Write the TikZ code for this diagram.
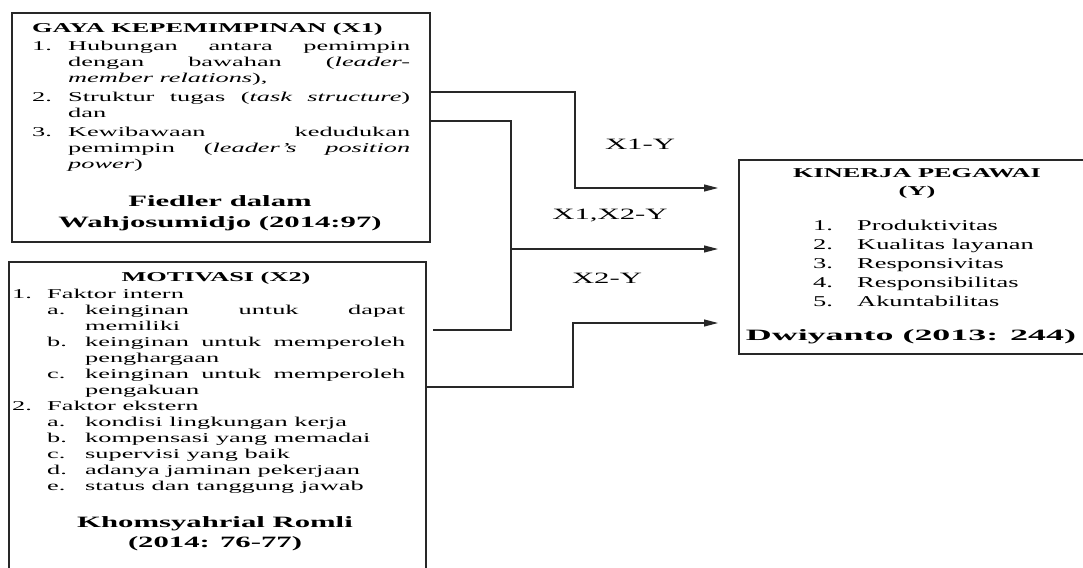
\documentclass[tikz,border=0pt]{standalone}
\usepackage{fontspec}
\setmainfont{Liberation Serif}[FakeStretch=1.95]
\usetikzlibrary{arrows.meta,positioning,calc}
\definecolor{edge}{RGB}{40,40,40}

\newcommand{\jl}[2]{\makebox[#1][s]{#2}}
\newcommand{\lb}[2]{\makebox[#1][l]{#2}}

\begin{document}
\begin{tikzpicture}[x=1pt,y=-1pt,
  frame/.style={draw=edge, line width=1.6pt, inner sep=0pt},
  txt/.style={inner sep=0pt, align=left, font=\fontsize{13.5}{16}\selectfont},
  head/.style={inner sep=0pt, align=center, font=\fontsize{13.5}{18}\selectfont\bfseries},
  cite/.style={inner sep=0pt, align=center, font=\fontsize{15.75}{21}\selectfont\bfseries},
  lbl/.style={inner sep=0pt, font=\fontsize{15.75}{16}\selectfont},
  line/.style={draw=edge, line width=1.1pt},
  conn/.style={line, -{Triangle[length=14pt,width=7pt]}}
]
  \clip (0,0) rectangle (1083,567);
  \node[frame, minimum width=418pt, minimum height=229pt] (gaya) at (221,127.5) {};
  \node[frame, minimum width=417pt, minimum height=338pt] (motiv) at (217.5,431) {};
  \node[frame, minimum width=371pt, minimum height=194pt] (kinerja) at (924.5,257) {};

  \node[head, anchor=base west] (gayahead) at (32,33) {GAYA KEPEMIMPINAN (X1)};
  \node[txt, anchor=base west] (gayalist) at (32,168) {%
    \lb{36pt}{1.}\jl{342pt}{Hubungan antara pemimpin}\\
    \lb{36pt}{}\jl{342pt}{dengan bawahan (\textit{leader-}}\\
    \lb{36pt}{}\textit{member relations}),\\[3pt]
    \lb{36pt}{2.}\jl{342pt}{Struktur tugas (\textit{task structure})}\\
    \lb{36pt}{}dan\\[3pt]
    \lb{36pt}{3.}\jl{342pt}{Kewibawaan kedudukan}\\
    \lb{36pt}{}\jl{342pt}{pemimpin (\textit{leader's position}}\\
    \lb{36pt}{}\textit{power})};
  \node[cite, anchor=base] (gayaref) at (220,227) {Fiedler dalam\\Wahjosumidjo (2014:97)};

  \node[head, anchor=base] (motivhead) at (216,281) {MOTIVASI (X2)};
  \node[txt, anchor=base west] (motivlist) at (12,490) {%
    \lb{35pt}{1.}Faktor intern\\
    \lb{35pt}{}\lb{38pt}{a.}\jl{320pt}{keinginan untuk dapat}\\
    \lb{73pt}{}memiliki\\
    \lb{35pt}{}\lb{38pt}{b.}\jl{320pt}{keinginan untuk memperoleh}\\
    \lb{73pt}{}penghargaan\\
    \lb{35pt}{}\lb{38pt}{c.}\jl{320pt}{keinginan untuk memperoleh}\\
    \lb{73pt}{}pengakuan\\
    \lb{35pt}{2.}Faktor ekstern\\
    \lb{35pt}{}\lb{38pt}{a.}kondisi lingkungan kerja\\
    \lb{35pt}{}\lb{38pt}{b.}kompensasi yang memadai\\
    \lb{35pt}{}\lb{38pt}{c.}supervisi yang baik\\
    \lb{35pt}{}\lb{38pt}{d.}adanya jaminan pekerjaan\\
    \lb{35pt}{}\lb{38pt}{e.}status dan tanggung jawab};
  \node[cite, anchor=base, font=\fontsize{15.75}{20}\selectfont\bfseries] (motivref) at (215,547) {Khomsyahrial Romli\\(2014: 76-77)};

  \node[head, anchor=base] (kinhead) at (917,195) {KINERJA PEGAWAI\\(Y)};
  \node[txt, anchor=base west, font=\fontsize{15}{19}\selectfont\addfontfeature{FakeStretch=1.76}] (kinlist) at (813,306) {%
    \lb{44pt}{1.}Produktivitas\\
    \lb{44pt}{2.}Kualitas layanan\\
    \lb{44pt}{3.}Responsivitas\\
    \lb{44pt}{4.}Responsibilitas\\
    \lb{44pt}{5.}Akuntabilitas};
  \node[cite, anchor=base, font=\fontsize{15.75}{21}\selectfont\bfseries\addfontfeature{FakeStretch=2.28}] (kinref) at (911,340) {Dwiyanto (2013: 244)};

  \node[lbl, anchor=base] (l1) at (640,149) {X1-Y};
  \node[lbl, anchor=base] (l2) at (610,219) {X1,X2-Y};
  \node[lbl, anchor=base] (l3) at (607,283) {X2-Y};

  \coordinate (in1) at (718,188);
  \coordinate (in2) at (718,249);
  \coordinate (in3) at (718,323);
  \coordinate (join) at (511,249);

  \draw[conn] (gaya.east |- 0,92) -| (575,188) -- (in1);
  \draw[line] (gaya.east |- 0,121) -| (511,330) -- ($(motiv.east |- 0,330)+(6,0)$);
  \draw[conn] (join) -- (in2);
  \draw[conn] (motiv.east |- 0,387) -| (573,323) -- (in3);
\end{tikzpicture}
\end{document}
